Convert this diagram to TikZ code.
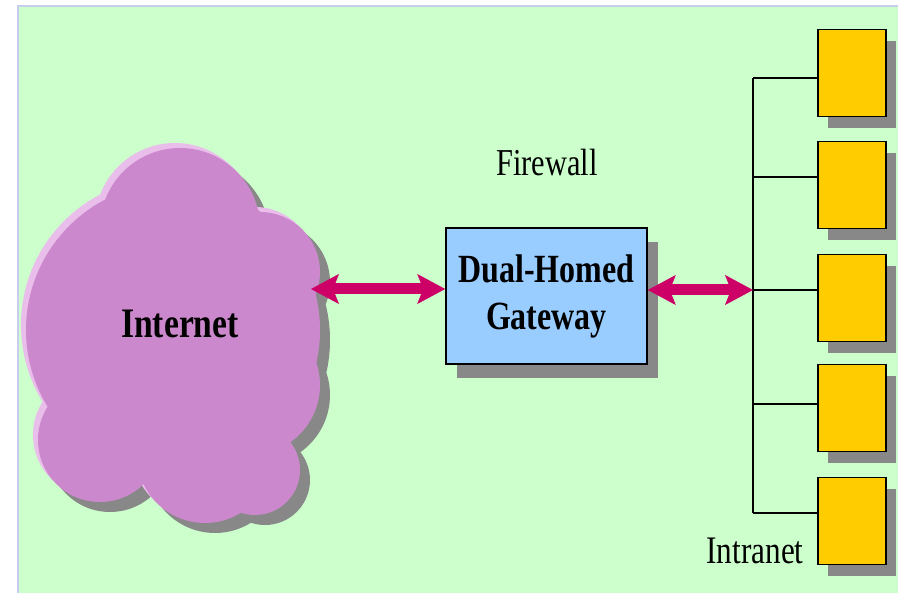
\documentclass[tikz,border=0pt]{standalone}
\usepackage{fontspec}
\newfontfamily\bildfont[FakeStretch=0.8]{Liberation Serif}
\usepackage{tikz}
\usetikzlibrary{arrows.meta,shadows,positioning}
\definecolor{hgruen}{RGB}{204,255,204}
\definecolor{rahmen}{RGB}{200,205,240}
\definecolor{wolke}{RGB}{204,136,204}
\definecolor{wolkehell}{RGB}{234,190,234}
\definecolor{schatten}{RGB}{136,136,136}
\definecolor{hblau}{RGB}{153,204,255}
\definecolor{gelb}{RGB}{255,204,0}
\definecolor{pfeil}{RGB}{204,0,102}

\begin{document}
\begin{tikzpicture}[x=1pt,y=-1pt,
  rechner/.style={draw,line width=1.6pt,fill=gelb,minimum width=68pt,minimum height=87pt,inner sep=0pt,
    drop shadow={shadow xshift=10pt,shadow yshift=-12pt,fill=schatten,opacity=1}},
  gateway/.style={draw,line width=1.6pt,fill=hblau,minimum width=201pt,minimum height=136pt,inner sep=0pt,
    align=center,font=\bildfont\bfseries\fontsize{40}{47}\selectfont,
    drop shadow={shadow xshift=11pt,shadow yshift=-14pt,fill=schatten,opacity=1}},
  beschriftung/.style={inner sep=0pt,font=\bildfont\fontsize{38}{40}\selectfont},
  netz/.style={line width=1.6pt,black},
  verbindung/.style={line width=11pt,pfeil,
    {Stealth[length=28pt,width=30pt,inset=6pt,line width=1pt]}-{Stealth[length=28pt,width=30pt,inset=6pt,line width=1pt]}}]
\useasboundingbox (0,0) rectangle (898,593);
%Hintergrund mit Rand oben und links
\fill[hgruen] (19,7) rectangle (898,593);
\draw[rahmen,line width=2pt] (18,593) -- (18,6) -- (898,6);
%Wolke aus Kreisen: erst Schatten, dann Aufhellung, dann Flaeche
\foreach \dx/\dy/\farbe in {10/10/schatten,-5/-5/wolkehell,0/0/wolke}{
\fill[\farbe,shift={(\dx,\dy)}] (180,228) circle (80) (260,272) circle (60) (173,330) circle (147)
  (100,440) circle (62) (205,455) circle (68) (250,385) circle (70) (255,470) circle (45);
}
\node[beschriftung,font=\bildfont\bfseries\fontsize{42}{44}\selectfont] (inet) at (180,324) {Internet};
\node[gateway] (gw) at (546.5,296) {Dual-Homed\\Gateway};
\node[beschriftung] (fw) at (547,163) {Firewall};
%Rechner im Intranet
\foreach \y [count=\i] in {73,185,298,408,521}{
\node[rechner] (box\i) at (852,\y) {};
}
\foreach \y [count=\i] in {78,177,290,404,513}{
\coordinate (bus\i) at (753,\y);
}
\draw[netz] (bus1) -- (bus5);
\foreach \i in {1,...,5}{
\draw[netz] (bus\i) -- (bus\i -| box\i.west);
}
\node[beschriftung,font=\bildfont\fontsize{39}{41}\selectfont] (intra) at (755,551) {Intranet};
\coordinate (wolkerand) at (311,289);
\draw[verbindung] (wolkerand) -- (gw.west |- wolkerand);
\draw[verbindung] (gw.east |- bus3) -- (bus3);
\end{tikzpicture}
\end{document}
